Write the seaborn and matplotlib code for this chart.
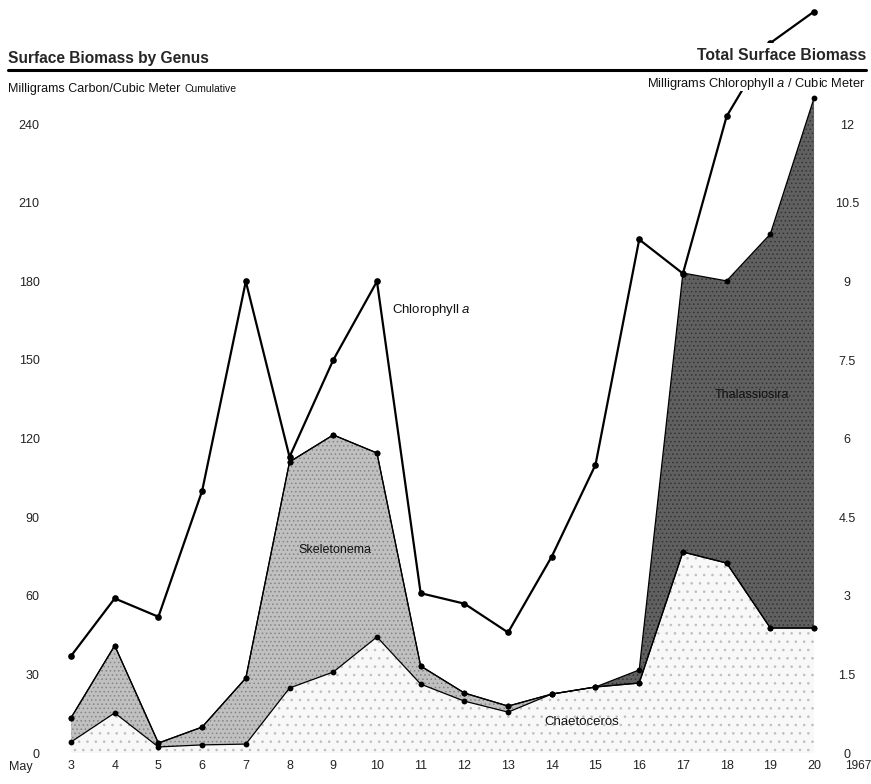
import numpy as np
import matplotlib
matplotlib.use("Agg")
import matplotlib.pyplot as plt
from matplotlib.lines import Line2D
from matplotlib.patches import Rectangle
import seaborn as sns

# Sampling days (May 1967)
days = list(range(3, 21))

# Surface biomass by genus, mg carbon / m^3 (stacked: Chaetoceros, Skeletonema, Thalassiosira)
chaetoceros = [4.2, 15.3, 2.3, 3.1, 3.4, 24.8, 30.9, 44.3, 26.3, 19.8, 15.6, 22.5,
               25.2, 26.7, 76.7, 72.5, 47.7, 47.7]
skeletonema = [9.2, 25.7, 1.5, 6.8, 25.2, 86.3, 90.5, 70.2, 6.9, 3.1, 2.3, 0.0,
               0.0, 0.0, 0.0, 0.0, 0.0, 0.0]
thalassiosira = [0.0, 0.0, 0.0, 0.0, 0.0, 0.0, 0.0, 0.0, 0.0, 0.0, 0.0, 0.0,
                 0.0, 5.0, 106.5, 107.7, 150.4, 202.3]

# Total surface biomass, mg chlorophyll a / m^3
chlorophyll = [1.85, 2.95, 2.6, 5.0, 9.0, 5.65, 7.5, 9.0, 3.05, 2.85, 2.3, 3.75,
               5.5, 9.8, 9.15, 12.15, 13.55, 14.15]

carbon_ticks = [0, 30, 60, 90, 120, 150, 180, 210, 240]
chl_ticks = [0, 1.5, 3, 4.5, 6, 7.5, 9, 10.5, 12]
chl_tick_labels = ["0", "1.5", "3", "4.5", "6", "7.5", "9", "10.5", "12"]

sns.set_theme(style="white")
FAMILY = ["Liberation Sans", "DejaVu Sans"]
plt.rcParams["font.family"] = FAMILY
plt.rcParams["mathtext.fontset"] = "custom"
plt.rcParams["mathtext.rm"] = "Liberation Sans"
plt.rcParams["mathtext.it"] = "Liberation Sans:italic"
plt.rcParams["hatch.linewidth"] = 0.6

W, H = 871, 784
fig = plt.figure(figsize=(W / 100, H / 100), dpi=100)


def fx(x):
    return x / W


def fy(y):
    return 1 - y / H


YMAX = 255
ax = fig.add_axes([fx(53.5), fy(753), (835.9 - 53.5) / W, 668.1 / H])
ax.set_xlim(2.6, 20.5)
ax.set_ylim(0, YMAX)
for s in ax.spines.values():
    s.set_visible(False)

c1 = np.array(chaetoceros)
c2 = c1 + np.array(skeletonema)
c3 = c2 + np.array(thalassiosira)

# Stacked genus areas
ax.fill_between(days, 0, c1, facecolor="#f8f8f8", edgecolor="#bdbdbd",
                hatch="..", linewidth=0, zorder=1)
ax.fill_between(days, c1, c2, facecolor="#c0c0c0", edgecolor="#858585",
                hatch="....", linewidth=0, zorder=1)
ax.fill_between(days, c2, c3, facecolor="#606060", edgecolor="#333333",
                hatch="....", linewidth=0, zorder=1)

# Boundary lines with sample dots
for cum in (c1, c2, c3):
    sns.lineplot(x=days, y=cum, ax=ax, color="black", linewidth=0.9,
                 marker="o", markersize=4.2, markeredgewidth=0,
                 markerfacecolor="black", zorder=3)

# Chlorophyll a on the right-hand scale
ax2 = ax.twinx()
ax2.set_ylim(0, YMAX / 20)
for s in ax2.spines.values():
    s.set_visible(False)
sns.lineplot(x=days, y=chlorophyll, ax=ax2, color="black", linewidth=1.6,
             marker="o", markersize=4.8, markeredgewidth=0,
             markerfacecolor="black", clip_on=False, zorder=4)

# Ticks
ax.set_xticks(days)
ax.set_xticklabels([str(d) for d in days])
ax.set_yticks(carbon_ticks)
ax.set_yticklabels([str(t) for t in carbon_ticks])
ax.tick_params(axis="both", length=0, labelsize=9, colors="#222222")
ax.tick_params(axis="y", pad=10)
ax.tick_params(axis="x", pad=5)
ax2.set_yticks(chl_ticks)
ax2.set_yticklabels(chl_tick_labels)
ax2.tick_params(axis="y", length=0, labelsize=9, colors="#222222", pad=8)
for lab in ax2.get_yticklabels():
    lab.set_horizontalalignment("center")
ax.set_xlabel("")
ax.set_ylabel("")
ax2.set_ylabel("")
ax.grid(False)
ax2.grid(False)

# In-plot labels
ax.text(10.34, 169, "Chlorophyll $a$", fontsize=9.5, ha="left", va="center",
        color="#111111", zorder=5)
ax.text(9.04, 77.5, "Skeletonema", fontsize=9, ha="center", va="center",
        color="#111111", zorder=5)
ax.text(18.58, 136.6, "Thalassiosira", fontsize=9, ha="center", va="center",
        color="#111111", zorder=5)
ax.text(14.69, 11.8, "Chaetoceros", fontsize=9.5, ha="center", va="center",
        color="#111111", zorder=5)

# Header band
fig.add_artist(Rectangle((fx(630), fy(91)), fx(240), (91 - 43) / H,
                         transform=fig.transFigure, facecolor="white",
                         edgecolor="none", zorder=1))
fig.add_artist(Line2D([fx(8), fx(866)], [fy(70), fy(70)], color="black",
                      linewidth=2.2, zorder=2))
fig.text(fx(8), fy(58), "Surface Biomass by Genus", fontsize=11.2,
         fontweight="bold", ha="left", va="center", zorder=3)
fig.text(fx(866), fy(55), "Total Surface Biomass", fontsize=11.3,
         fontweight="bold", ha="right", va="center", zorder=3)
unit_left = fig.text(fx(8), fy(89), "Milligrams Carbon/Cubic Meter",
                     fontsize=9, ha="left", va="center", color="#111111",
                     zorder=3)
fig.add_artist(plt.Annotation("Cumulative", xy=(1, 0.5), xycoords=unit_left,
                              xytext=(3, 0), textcoords="offset points",
                              fontsize=7.5, ha="left", va="center",
                              color="#111111", zorder=3))
fig.text(fx(866), fy(84), "Milligrams Chlorophyll $a$ / Cubic Meter",
         fontsize=9.3, ha="right", va="center", color="#111111", zorder=3)
fig.text(fx(21), fy(767), "May", fontsize=9, ha="center", va="center",
         color="#222222", zorder=3)
fig.text(fx(858), fy(766), "1967", fontsize=8.5, ha="center", va="center",
         color="#222222", zorder=3)

fig.savefig("out.png", dpi=100, facecolor="white")
